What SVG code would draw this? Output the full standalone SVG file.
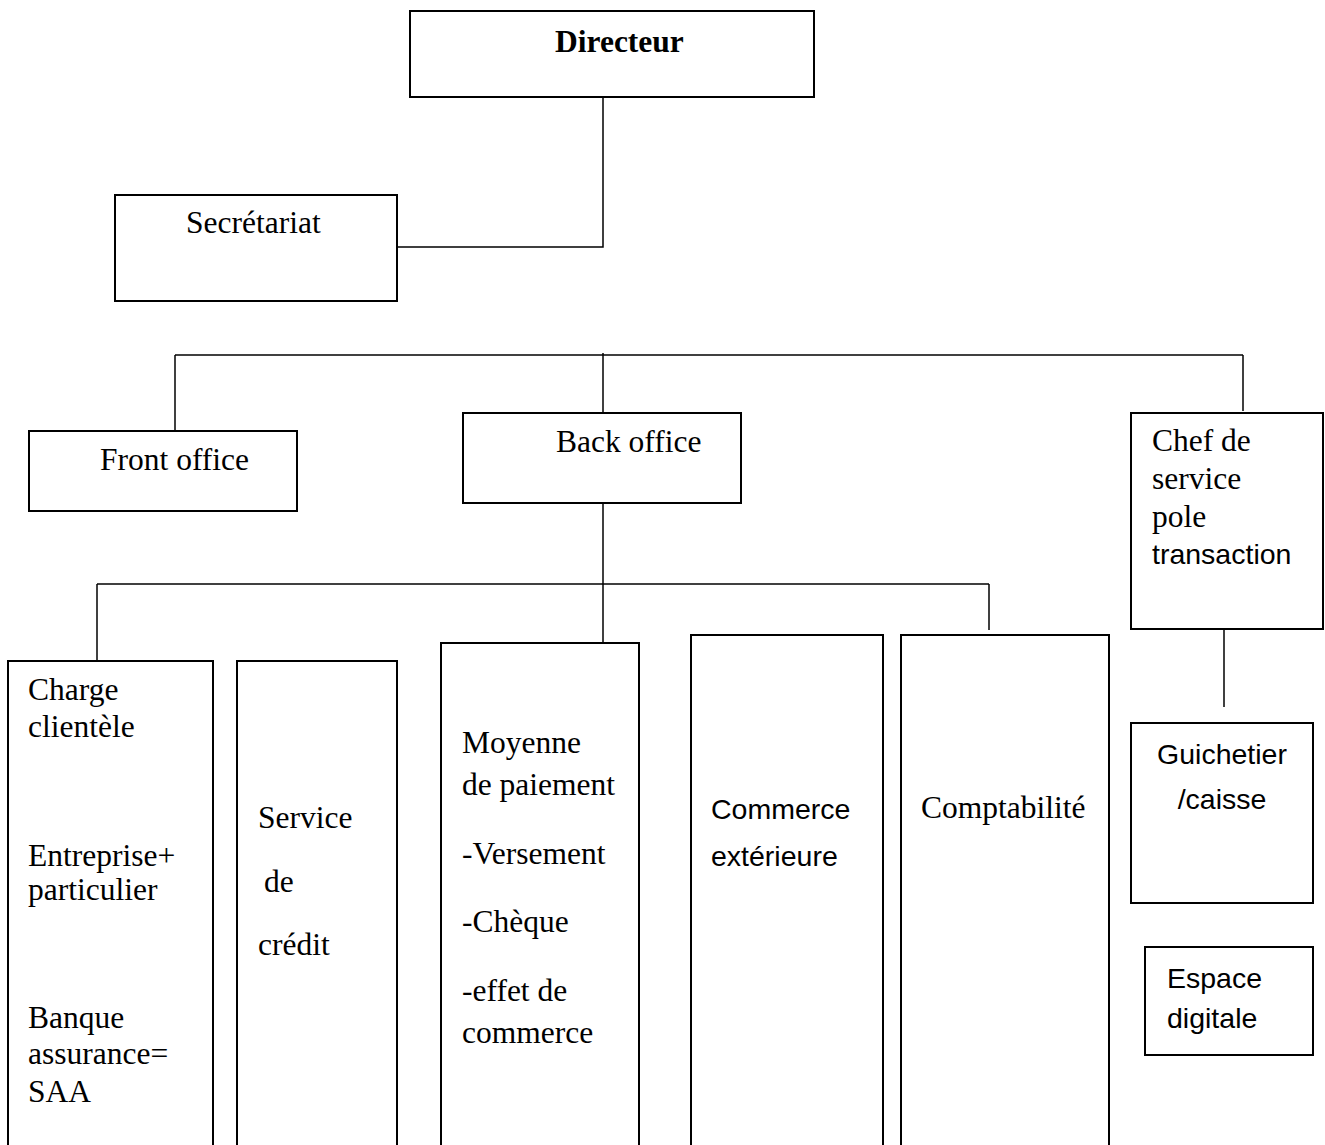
<svg xmlns="http://www.w3.org/2000/svg" width="1325" height="1145" viewBox="0 0 1325 1145">
<style>
.box{fill:#fff;stroke:#000;stroke-width:2}
.ln{stroke:#000;stroke-width:1.5;fill:none}
.s{font-family:"Liberation Serif","Times New Roman",serif;font-size:31.5px;fill:#000}
.b{font-weight:bold}
.ss{font-family:"Liberation Sans",Arial,sans-serif;font-size:28.5px;fill:#000}
</style>
<rect width="1325" height="1145" fill="#fff"/>
<g id="connectors">
<polyline class="ln" points="603,97 603,247 397,247"/>
<line class="ln" x1="175" y1="355" x2="1243" y2="355"/>
<line class="ln" x1="175" y1="355" x2="175" y2="431"/>
<line class="ln" x1="603" y1="353" x2="603" y2="413"/>
<line class="ln" x1="1243" y1="355" x2="1243" y2="411"/>
<line class="ln" x1="603" y1="503" x2="603" y2="643"/>
<line class="ln" x1="97" y1="584" x2="989" y2="584"/>
<line class="ln" x1="97" y1="584" x2="97" y2="661"/>
<line class="ln" x1="989" y1="584" x2="989" y2="630"/>
<line class="ln" x1="1224" y1="629" x2="1224" y2="707"/>
</g>
<g id="directeur"><rect class="box" x="410" y="11" width="404" height="86"/><text class="s b" x="555" y="52">Directeur</text></g>
<g id="secretariat"><rect class="box" x="115" y="195" width="282" height="106"/><text class="s" x="186" y="233">Secrétariat</text></g>
<g id="front-office"><rect class="box" x="29" y="431" width="268" height="80"/><text class="s" x="100" y="470">Front office</text></g>
<g id="back-office"><rect class="box" x="463" y="413" width="278" height="90"/><text class="s" x="556" y="452">Back office</text></g>
<g id="chef-service"><rect class="box" x="1131" y="413" width="192" height="216"/>
<text class="s" x="1152" y="451">Chef de</text><text class="s" x="1152" y="489">service</text><text class="s" x="1152" y="527">pole</text><text class="ss" x="1152" y="564">transaction</text></g>
<g id="charge-clientele"><rect class="box" x="8" y="661" width="205" height="500"/>
<text class="s" x="28" y="700">Charge</text><text class="s" x="28" y="737">clientèle</text>
<text class="s" x="28" y="866">Entreprise+</text><text class="s" x="28" y="900">particulier</text>
<text class="s" x="28" y="1028">Banque</text><text class="s" x="28" y="1064">assurance=</text><text class="s" x="28" y="1102">SAA</text></g>
<g id="service-credit"><rect class="box" x="237" y="661" width="160" height="500"/>
<text class="s" x="258" y="828">Service</text><text class="s" x="264" y="892">de</text><text class="s" x="258" y="955">crédit</text></g>
<g id="moyenne-paiement"><rect class="box" x="441" y="643" width="198" height="520"/>
<text class="s" x="462" y="753">Moyenne</text><text class="s" x="462" y="795">de paiement</text>
<text class="s" x="462" y="864">-Versement</text><text class="s" x="462" y="932">-Chèque</text>
<text class="s" x="462" y="1001">-effet de</text><text class="s" x="462" y="1043">commerce</text></g>
<g id="commerce-exterieure"><rect class="box" x="691" y="635" width="192" height="530"/>
<text class="ss" x="711" y="819">Commerce</text><text class="ss" x="711" y="866">extérieure</text></g>
<g id="comptabilite"><rect class="box" x="901" y="635" width="208" height="530"/>
<text class="s" x="921" y="818">Comptabilité</text></g>
<g id="guichetier"><rect class="box" x="1131" y="723" width="182" height="180"/>
<text class="ss" x="1222" y="764" text-anchor="middle">Guichetier</text><text class="ss" x="1222" y="809" text-anchor="middle">/caisse</text></g>
<g id="espace-digitale"><rect class="box" x="1145" y="947" width="168" height="108"/>
<text class="ss" x="1167" y="988">Espace</text><text class="ss" x="1167" y="1028">digitale</text></g>
</svg>
